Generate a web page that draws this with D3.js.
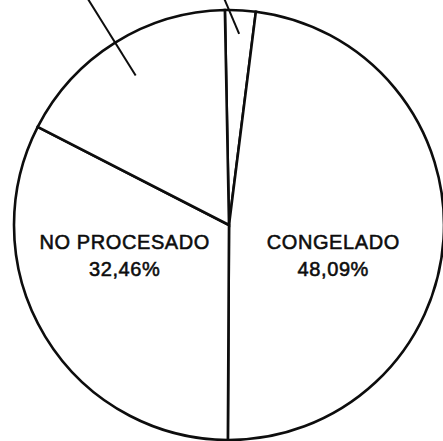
<!DOCTYPE html>
<meta charset="utf-8">
<html>
  <head>
    <title>Pie</title>
    <script src="https://d3js.org/d3.v7.min.js"></script>
    <style>
      body { margin: 0; background: #fff; }
      svg { display: block; }
      text {
        font-family: "Liberation Sans", Arial, Helvetica, sans-serif;
        font-size: 20px;
        fill: #0d0d0d;
        stroke: #0d0d0d;
        stroke-width: 0.55px;
        letter-spacing: 0.6px;
      }
    </style>
  </head>
  <body>
    <div id="pie_graph"></div>
    <script>
      // slices, clockwise from top (the two small ones are labelled off the page)
      var categories = ["otro", "CONGELADO", "NO PROCESADO", "resto"];
      var values = [2.30, 48.09, 32.46, 17.15];
      var showLabel = [false, true, true, false];

      var width = 443, height = 441;
      var cx = 229, cy = 225, radius = 215;
      var start = -1.1 * Math.PI / 180;

      var fmt = d3.formatLocale({decimal: ",", thousands: ".", grouping: [3], currency: ["", ""]}).format(".2f");

      var data = categories.map(function(c, i) {
        return {label: c, value: values[i], show: showLabel[i]};
      });

      var svg = d3.select("#pie_graph").append("svg")
        .attr("width", width)
        .attr("height", height);

      var g = svg.append("g").attr("transform", "translate(" + cx + "," + cy + ")");

      var pie = d3.pie()
        .sort(null)
        .startAngle(start)
        .endAngle(start + 2 * Math.PI)
        .value(function(d) { return d.value; });

      var arc = d3.arc().innerRadius(0).outerRadius(radius);
      var arcs = pie(data);

      g.selectAll("path.slice")
        .data(arcs)
        .enter().append("path")
          .attr("class", "slice")
          .attr("d", arc)
          .attr("fill", "#fff")
          .attr("stroke", "#0d0d0d")
          .attr("stroke-width", 2.6)
          .attr("stroke-linejoin", "miter");

      // leader lines for the small slices whose labels sit above the page
      function mid(d) { return (d.startAngle + d.endAngle) / 2; }
      function pt(a, r) { return [r * Math.sin(a), -r * Math.cos(a)]; }

      var leaders = [
        {d: arcs[0], r0: 0.89, bend: -26 * Math.PI / 180, len: 50},
        {d: arcs[3], r0: 0.82, bend: 0, len: 120}
      ];
      g.selectAll("line.leader")
        .data(leaders)
        .enter().append("line")
          .attr("class", "leader")
          .each(function(l) {
            var a = mid(l.d);
            var p0 = pt(a, radius * l.r0);
            var dir = a + l.bend;
            var p1 = [p0[0] + l.len * Math.sin(dir), p0[1] - l.len * Math.cos(dir)];
            d3.select(this)
              .attr("x1", p0[0]).attr("y1", p0[1])
              .attr("x2", p1[0]).attr("y2", p1[1]);
          })
          .attr("stroke", "#0d0d0d")
          .attr("stroke-width", 2);

      // labels for the two big halves
      var lab = g.selectAll("g.label")
        .data(arcs.filter(function(d) { return d.data.show; }))
        .enter().append("g")
          .attr("class", "label")
          .attr("transform", function(d) {
            var side = Math.sin(mid(d)) < 0 ? -1 : 1;
            return "translate(" + (side * radius * 0.485) + ",24)";
          });
      lab.append("text")
        .attr("text-anchor", "middle")
        .text(function(d) { return d.data.label; });
      lab.append("text")
        .attr("text-anchor", "middle")
        .attr("y", 27)
        .text(function(d) { return fmt(d.data.value) + "%"; });
    </script>
  </body>
</html>
